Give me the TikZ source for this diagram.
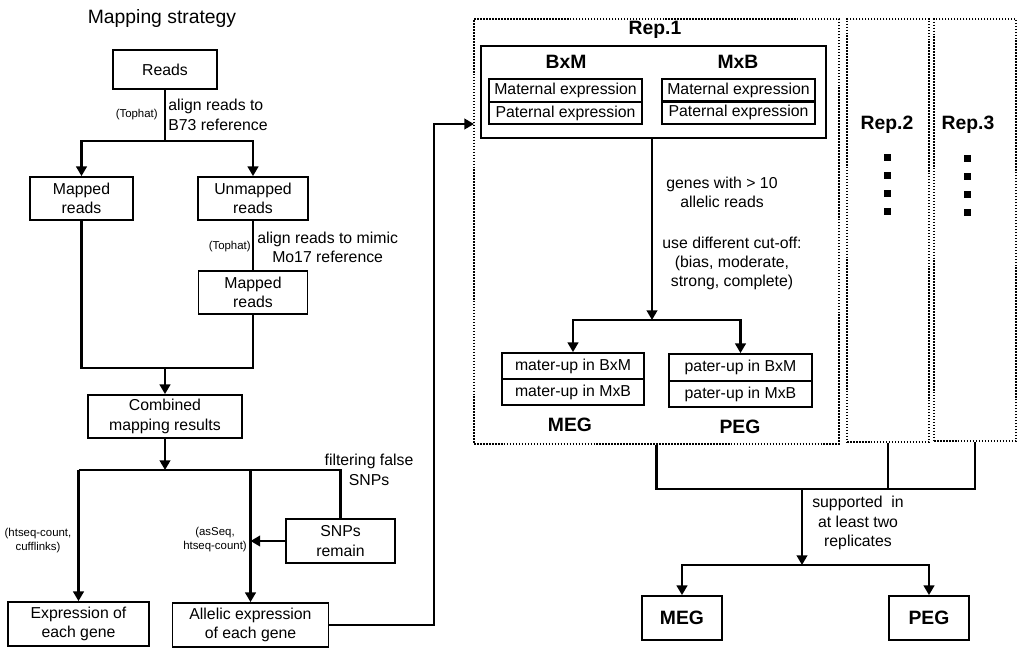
\documentclass[tikz,border=0pt]{standalone}
\usepackage{fontspec}
\setmainfont{Liberation Sans}
\usetikzlibrary{arrows.meta,positioning}

\tikzset{
  box/.style={draw, line width=1pt, align=center, inner sep=0pt, font=\fontsize{9}{11}\selectfont},
  repbox/.style={draw, line width=1pt, dash pattern=on 0.9pt off 0.8pt, inner sep=0pt},
  line/.style={line width=1.3pt},
  arr/.style={line width=1.3pt, -{Triangle[width=6pt,length=5.5pt]}},
  txt/.style={font=\fontsize{9}{11}\selectfont, align=center, inner sep=0pt},
  tool/.style={font=\fontsize{6.5}{8}\selectfont, align=center, inner sep=0pt},
  big/.style={font=\fontsize{11}{13}\selectfont\bfseries, inner sep=0pt},
}

\begin{document}
\begin{tikzpicture}[x=0.02cm, y=-0.02cm]
  \useasboundingbox (0,0) rectangle (1035,659);

  % left part: mapping
  \node[font=\fontsize{11}{13}\selectfont] (title) at (162,19) {Mapping strategy};
  \node[box, minimum width=2.08cm, minimum height=0.78cm] (reads) at (165,69.5) {Reads};
  \node[box, minimum width=2.06cm, minimum height=0.86cm] (mapA) at (81.5,198.5) {Mapped\\reads};
  \node[box, minimum width=2.2cm, minimum height=0.86cm] (unmap) at (253,198.5) {Unmapped\\reads};
  \node[box, minimum width=2.18cm, minimum height=0.86cm] (mapB) at (253,292.5) {Mapped\\reads};
  \node[box, minimum width=3.08cm, minimum height=0.86cm] (comb) at (165,416.5) {Combined\\mapping results};
  \node[box, minimum width=2.18cm, minimum height=0.88cm] (snps) at (340.5,541) {SNPs\\remain};
  \node[box, minimum width=2.82cm, minimum height=0.88cm] (expr) at (78.5,624) {Expression of\\each gene};
  \node[box, minimum width=3.12cm, minimum height=0.88cm] (allel) at (250.5,625) {Allelic expression\\of each gene};

  \node[tool, anchor=east] (top1) at (158,115) {(Tophat)};
  \node[txt, anchor=west, align=left] (align1) at (168,115) {align reads to\\B73 reference};
  \node[tool, anchor=east] (top2) at (251,247) {(Tophat)};
  \node[txt, anchor=west] (align2) at (257,247.5) {align reads to mimic\\Mo17 reference};
  \node[txt] (filt) at (369,470) {filtering false\\SNPs};
  \node[tool] (htseq) at (38,541) {(htseq-count,\\cufflinks)};
  \node[tool] (asseq) at (215,540) {(asSeq,\\htseq-count)};

  \coordinate (j1) at (165,141);
  \coordinate (j2) at (165,368);
  \coordinate (j3) at (165,470);
  \coordinate (turn) at (434,625);
  \coordinate (entry) at (474,124);

  \draw[line] (reads.south) -- (j1);
  \draw[arr] (j1) -| (mapA.north);
  \draw[arr] (j1) -| (unmap.north);
  \draw[line] (unmap.south) -- (mapB.north);
  \draw[line] (mapA.south) |- (mapB.south |- j2) -- (mapB.south);
  \draw[arr] (j2) -- (comb.north);
  \draw[arr] (comb.south) -- (j3);
  \draw[line] (expr.north |- j3) -- (snps.north |- j3) -- (snps.north);
  \draw[arr] (expr.north |- j3) -- (expr.north);
  \draw[arr] (allel.north |- j3) -- (allel.north);
  \draw[arr] (snps.west) -- (snps.west -| allel.north);
  \draw[arr] (allel.east) -- (turn) |- (entry);

  % right part: replicates
  \node[repbox, minimum width=7.3cm, minimum height=8.5cm] (rep1) at (656.5,231.5) {};
  \node[repbox, minimum width=1.64cm, minimum height=8.46cm] (rep2) at (888,230.5) {};
  \node[repbox, minimum width=1.64cm, minimum height=8.44cm] (rep3) at (975,230) {};
  \node[big] (rep1lab) at (655,30) {Rep.1};
  \node[big] (rep2lab) at (887,125) {Rep.2};
  \node[big] (rep3lab) at (968,125) {Rep.3};
  \foreach \y in {157,175,193,211} {
    \fill (883.5,\y-3.5) rectangle ++(7,7);
    \fill (963.5,\y-2.5) rectangle ++(7,7);
  }

  \node[draw, line width=1pt, minimum width=6.9cm, minimum height=1.84cm] (cross) at (653.5,92) {};
  \node[big] (bxm) at (566,62) {BxM};
  \node[big] (mxb) at (738,62) {MxB};
  \node[box, minimum width=3.06cm, minimum height=0.45cm] (bmat) at (565.5,90.5) {Maternal expression};
  \node[box, minimum width=3.06cm, minimum height=0.45cm] (bpat) at (565.5,113) {Paternal expression};
  \node[box, minimum width=3.06cm, minimum height=0.45cm] (mmat) at (738.5,90.5) {Maternal expression};
  \node[box, minimum width=3.06cm, minimum height=0.45cm] (mpat) at (738.5,112.5) {Paternal expression};

  \node[txt] (genes) at (722,192.5) {genes with > 10\\allelic reads};
  \node[txt] (cutoff) at (732,263.5) {use different cut-off:\\(bias, moderate,\\strong, complete)};

  \node[box, minimum width=2.84cm, minimum height=0.52cm] (materA) at (573,366) {mater-up in BxM};
  \node[box, minimum width=2.84cm, minimum height=0.52cm] (materB) at (573,392) {mater-up in MxB};
  \node[box, minimum width=2.86cm, minimum height=0.54cm] (paterA) at (740.5,367.5) {pater-up in BxM};
  \node[box, minimum width=2.86cm, minimum height=0.52cm] (paterB) at (740.5,394) {pater-up in MxB};
  \node[big] (meg1) at (570,425) {MEG};
  \node[big] (peg1) at (740,427) {PEG};

  \coordinate (split1) at (652,320);
  \draw[arr] (cross.south -| split1) -- (split1);
  \draw[arr] (split1) -| (materA.north);
  \draw[arr] (split1) -| (paterA.north);

  % combine the replicates
  \node[box, font=\fontsize{11}{13}\selectfont\bfseries, minimum width=1.6cm, minimum height=0.88cm] (megF) at (682,618) {MEG};
  \node[box, font=\fontsize{11}{13}\selectfont\bfseries, minimum width=1.6cm, minimum height=0.88cm] (pegF) at (929,618) {PEG};
  \node[txt] (supp) at (858,523) {supported~ in\\at least two\\replicates};

  \coordinate (join) at (802,489);
  \coordinate (split2) at (802,565);
  \draw[line] (rep1.south) -- (rep1.south |- join) -- (rep3.south |- join) -- (rep3.south);
  \draw[line] (rep2.south) -- (rep2.south |- join);
  \draw[arr] (join) -- (split2);
  \draw[arr] (split2) -| (megF.north);
  \draw[arr] (split2) -| (pegF.north);
\end{tikzpicture}
\end{document}
